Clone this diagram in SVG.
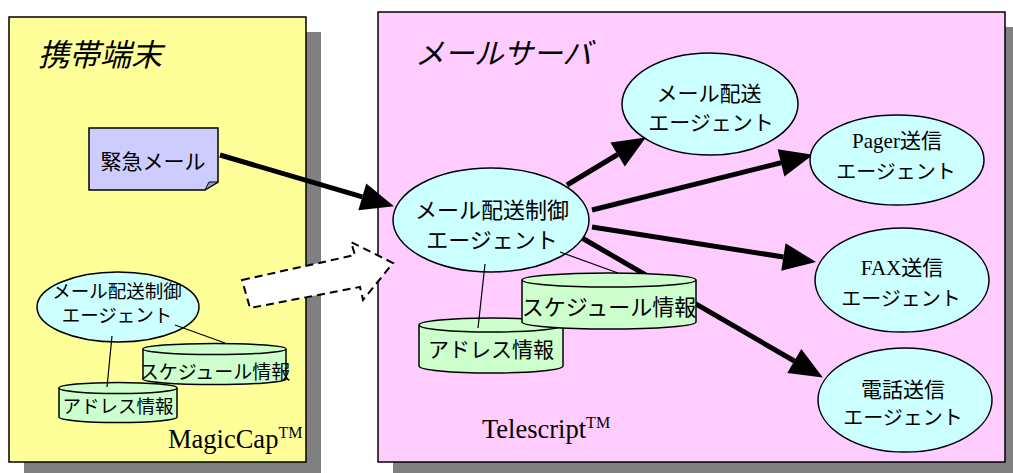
<svg xmlns="http://www.w3.org/2000/svg" width="1013" height="473" viewBox="0 0 1013 473">
<style>
.shadow{fill:#808080}
.panel{stroke:#000;stroke-width:1.5}
.jp{font-family:"Noto Sans CJK JP","Noto Sans CJK SC",sans-serif;fill:#000;dominant-baseline:central}
.mix{font-family:"Liberation Serif","Noto Sans CJK JP",serif;fill:#000;dominant-baseline:central}
.serif{font-family:"Liberation Serif",serif;fill:#000}
.title{font-style:italic}
.agent{fill:#ccffff;stroke:#000;stroke-width:1.5}
.db{fill:#ccffcc;stroke:#000;stroke-width:1.5}
.thick{stroke:#000;stroke-width:5;fill:none}
.thin{stroke:#000;stroke-width:1.2;fill:none}
</style>
<defs>
<marker id="ah" markerUnits="userSpaceOnUse" markerWidth="34" markerHeight="30" refX="0" refY="14" orient="auto" overflow="visible">
<path d="M0,0 L33,14 L0,28 z" fill="#000"/>
</marker>
</defs>

<g id="panel-mobile">
<rect class="shadow" x="24" y="32" width="297" height="445"/>
<rect class="panel" x="9" y="17" width="297" height="445" fill="#ffff99"/>
<text class="jp title" x="38" y="52" font-size="31">携帯端末</text>
<text class="serif" x="168" y="448" font-size="26.5">MagicCap<tspan font-size="16" dy="-10">TM</tspan></text>
</g>

<g id="panel-server">
<rect class="shadow" x="393" y="27" width="627" height="450"/>
<rect class="panel" x="378" y="12" width="627" height="450" fill="#ffccff"/>
<text class="jp title" x="415" y="51" font-size="29.5">メールサーバ</text>
<text class="serif" x="482" y="438" font-size="26.5">Telescript<tspan font-size="16" dy="-10">TM</tspan></text>
</g>

<g id="urgent-mail">
<path d="M89,128 H218 V182 L205,190 H89 Z" fill="#ccccff" stroke="#000" stroke-width="1.5"/>
<path d="M205,190 L209,182 L218,182 Z" fill="#9999cc" stroke="#000" stroke-width="1"/>
<text class="jp" x="153" y="160" font-size="21" text-anchor="middle">緊急メール</text>
</g>

<g id="transfer-arrow">
<path d="M242,280 L355,255 L351,242 L393,263 L363,300 L360,287 L250,308 Z" fill="#fff" stroke="#000" stroke-width="2" stroke-dasharray="8,5"/>
</g>

<g id="connectors">
<line class="thick" x1="220" y1="155" x2="362.3" y2="196.9" marker-end="url(#ah)"/>
<line class="thick" x1="567" y1="185" x2="617.6" y2="154.5" marker-end="url(#ah)"/>
<line class="thick" x1="592" y1="210" x2="781" y2="162.8" marker-end="url(#ah)"/>
<line class="thick" x1="592" y1="227" x2="783.4" y2="257" marker-end="url(#ah)"/>
<line class="thick" x1="582" y1="238" x2="794.3" y2="361" marker-end="url(#ah)"/>
</g>

<g id="mobile-agent">
<ellipse class="agent" cx="118" cy="307" rx="81" ry="35"/>
<text class="jp" x="117" y="289.5" font-size="18.5" text-anchor="middle">メール配送制御</text>
<text class="jp" x="117" y="314" font-size="18.5" text-anchor="middle">エージェント</text>
</g>

<g id="mobile-address-db">
<path class="db" d="M59,388 A59,5.5 0 0 1 177,388 V417 A59,5.5 0 0 1 59,417 Z"/>
<path class="db" d="M59,388 A59,5.5 0 0 0 177,388" fill="none"/>
<text class="jp" x="118" y="405" font-size="18.5" text-anchor="middle">アドレス情報</text>
</g>

<g id="mobile-schedule-db">
<path class="db" d="M143,349 A71.5,5.5 0 0 1 286,349 V379 A71.5,5.5 0 0 1 143,379 Z"/>
<path class="db" d="M143,349 A71.5,5.5 0 0 0 286,349" fill="none"/>
<text class="jp" x="215" y="370" font-size="19" text-anchor="middle">スケジュール情報</text>
</g>

<g id="server-agent">
<ellipse class="agent" cx="491" cy="220" rx="98" ry="52"/>
<text class="jp" x="492" y="208" font-size="22" text-anchor="middle">メール配送制御</text>
<text class="jp" x="492" y="238" font-size="22" text-anchor="middle">エージェント</text>
</g>

<g id="server-address-db">
<path class="db" d="M419,325 A72,7 0 0 1 563,325 V366 A72,7 0 0 1 419,366 Z"/>
<path class="db" d="M419,325 A72,7 0 0 0 563,325" fill="none"/>
<text class="jp" x="491" y="348" font-size="21" text-anchor="middle">アドレス情報</text>
</g>

<g id="server-schedule-db">
<path class="db" d="M522,280 A87,7 0 0 1 696,280 V322 A87,7 0 0 1 522,322 Z"/>
<path class="db" d="M522,280 A87,7 0 0 0 696,280" fill="none"/>
<text class="jp" x="609" y="305" font-size="22" text-anchor="middle">スケジュール情報</text>
</g>

<g id="delivery-agent">
<ellipse class="agent" cx="710" cy="104" rx="88" ry="51"/>
<text class="jp" x="709" y="92" font-size="21" text-anchor="middle">メール配送</text>
<text class="jp" x="711" y="121" font-size="21" text-anchor="middle">エージェント</text>
</g>

<g id="pager-agent">
<ellipse class="agent" cx="897" cy="160" rx="87" ry="45"/>
<text class="mix" x="897" y="141" font-size="21" text-anchor="middle">Pager送信</text>
<text class="jp" x="896" y="170" font-size="20" text-anchor="middle">エージェント</text>
</g>

<g id="fax-agent">
<ellipse class="agent" cx="902" cy="280" rx="87" ry="52"/>
<text class="mix" x="902" y="268" font-size="21" text-anchor="middle">FAX送信</text>
<text class="jp" x="901" y="297" font-size="20" text-anchor="middle">エージェント</text>
</g>

<g id="phone-agent">
<ellipse class="agent" cx="905" cy="400" rx="87" ry="52"/>
<text class="jp" x="903" y="388" font-size="21" text-anchor="middle">電話送信</text>
<text class="jp" x="903" y="416" font-size="20" text-anchor="middle">エージェント</text>
</g>

<g id="data-links">
<line class="thin" x1="112" y1="336" x2="107" y2="387"/>
<line class="thin" x1="175" y1="325" x2="225" y2="343"/>
<line class="thin" x1="485" y1="264" x2="478" y2="328"/>
<line class="thin" x1="560" y1="252" x2="618" y2="273"/>
</g>
</svg>
